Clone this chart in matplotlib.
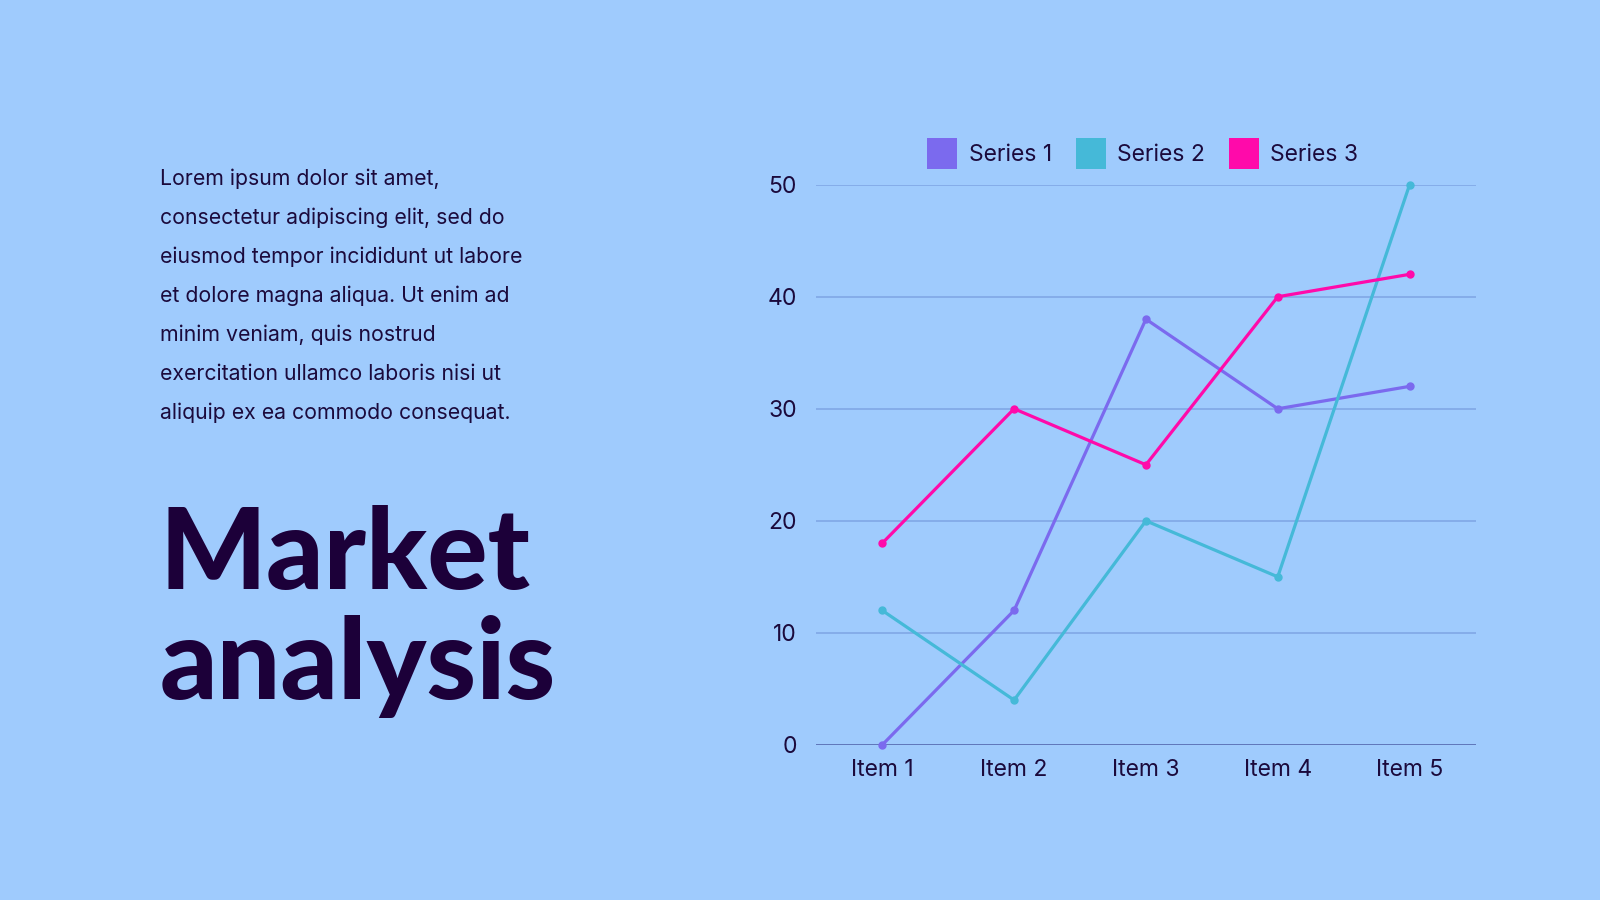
import matplotlib
matplotlib.use("Agg")
import matplotlib.pyplot as plt
from matplotlib.patches import Patch

categories = ["Item 1", "Item 2", "Item 3", "Item 4", "Item 5"]
series_names = ["Series 1", "Series 2", "Series 3"]
series1 = [0, 12, 38, 30, 32]
series2 = [12, 4, 20, 15, 50]
series3 = [18, 30, 25, 40, 42]
yticks = [0, 10, 20, 30, 40, 50]
body_lines = [
    "Lorem ipsum dolor sit amet,",
    "consectetur adipiscing elit, sed do",
    "eiusmod tempor incididunt ut labore",
    "et dolore magna aliqua. Ut enim ad",
    "minim veniam, quis nostrud",
    "exercitation ullamco laboris nisi ut",
    "aliquip ex ea commodo consequat.",
]
title_lines = ["Market", "analysis"]

BG = "#9fcbfd"
DARK = "#1b0a3c"
TITLE = "#1c0039"
COLORS = ["#7b6aee", "#45b9d8", "#ff0aaa"]
W, H = 1568.0, 882.0

def fx(x):
    return x / W

def fy(y):
    return 1 - y / H

plt.rcParams["font.family"] = ["Inter", "DejaVu Sans"]

fig = plt.figure(figsize=(16, 9), dpi=100, facecolor=BG)
ax = fig.add_axes([fx(800), fy(730), fx(1446) - fx(800), fy(181) - fy(730)])
ax.set_facecolor(BG)

x = list(range(len(categories)))
for vals, c in zip([series1, series2, series3], COLORS):
    ax.plot(x, vals, color=c, lw=2.3, marker="o", ms=5, zorder=3,
            solid_joinstyle="round", solid_capstyle="round", clip_on=False)

ax.set_xlim(-0.5, len(categories) - 0.5)
ax.set_ylim(0, 50)
ax.set_yticks(yticks)
ax.set_xticks(x)
ax.set_xticklabels(categories)
for yv in yticks[1:]:
    ax.axhline(yv, color="#7ea4e4", lw=1.1, zorder=1)
ax.axhline(0, color="#5a70b4", lw=1.3, zorder=2)
for s in ax.spines.values():
    s.set_visible(False)
ax.tick_params(axis="both", length=0, labelsize=16.5, labelcolor=DARK)
ax.tick_params(axis="y", pad=14)
ax.tick_params(axis="x", pad=10)

handles = [Patch(facecolor=c, edgecolor="none") for c in COLORS]
fig.legend(handles, series_names, loc="center", bbox_to_anchor=(fx(1120), fy(150)),
           ncol=3, frameon=False, fontsize=16.5, handlelength=1.3, handleheight=1.7,
           handletextpad=0.5, columnspacing=1.05, labelcolor=DARK)

for i, line in enumerate(body_lines):
    fig.text(fx(157), fy(175 + i * 38.3), line, fontsize=15.3, color=DARK,
             ha="left", va="center")

fig.text(fx(156), fy(577), title_lines[0], fontsize=81, fontweight="black",
         family=["Lato", "DejaVu Sans"], color=TITLE, ha="left", va="baseline")
fig.text(fx(156), fy(685), title_lines[1], fontsize=81, fontweight="black",
         family=["Lato", "DejaVu Sans"], color=TITLE, ha="left", va="baseline")

fig.savefig("out.png", dpi=100, facecolor=BG)
